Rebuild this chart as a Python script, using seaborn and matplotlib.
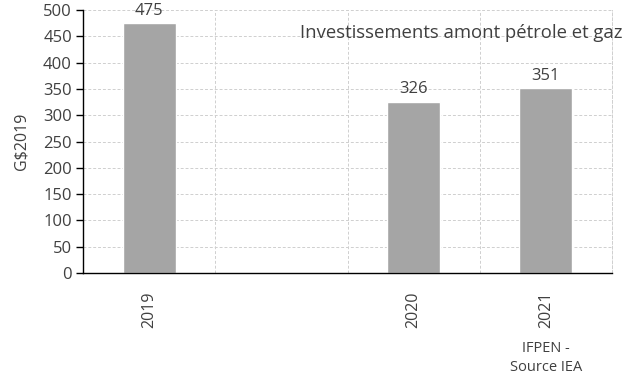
import matplotlib
matplotlib.use("Agg")
import matplotlib.pyplot as plt
import seaborn as sns
import pandas as pd

# data
years = ["2019", "2020", "2021"]
values = [475, 326, 351]
categories = ["2019", " ", "2020", "2021"]  # empty slot between 2019 and 2020

df = pd.DataFrame({"annee": years, "invest": values})

sns.set_style("white")
plt.rcParams["font.family"] = ["Open Sans", "DejaVu Sans"]
txt = "#404040"
grid_col = "#cfcfcf"

fig = plt.figure(figsize=(6.24, 3.76), dpi=100)
ax = fig.add_axes([83 / 624, 1 - 273 / 376, (612 - 83) / 624, (273 - 10) / 376])

sns.barplot(data=df, x="annee", y="invest", order=categories, color="#a5a5a5",
            width=0.4, saturation=1, ax=ax)

ax.set_ylim(0, 500)
ax.set_xlim(-0.5, len(categories) - 0.5)
ax.set_yticks(range(0, 501, 50))

# gridlines at category boundaries and at y ticks
ax.set_xticks([i - 0.5 for i in range(len(categories) + 1)], minor=True)
ax.grid(True, which="minor", axis="x", color=grid_col, linestyle=(0, (3, 2)), linewidth=0.7)
ax.grid(True, which="major", axis="y", color=grid_col, linestyle=(0, (3, 2)), linewidth=0.7)
ax.set_axisbelow(True)

ax.tick_params(axis="x", which="major", length=0, pad=13, labelrotation=90,
               labelsize=11.5, labelcolor=txt)
ax.tick_params(axis="x", which="minor", length=6, width=1, color="black", direction="out")
ax.tick_params(axis="y", length=5, width=1, color="black", direction="out",
               labelsize=12, labelcolor=txt, pad=3, left=True)

ax.spines["top"].set_visible(False)
ax.spines["right"].set_color(grid_col)
ax.spines["right"].set_linestyle((0, (3, 2)))
ax.spines["right"].set_linewidth(0.7)
for s in ["left", "bottom"]:
    ax.spines[s].set_color("black")
    ax.spines[s].set_linewidth(1)

ax.set_xlabel("")
ax.set_ylabel("G$2019", fontsize=11.5, color=txt, labelpad=10)

for c in ax.containers:
    ax.bar_label(c, fmt="%d", padding=3, fontsize=12, color=txt)

fig.text(0.998, 0.912, "Investissements amont pétrole et gaz", ha="right", va="center",
         fontsize=13.3, color=txt)
fig.text(546 / 624, 1 - 358 / 376, "IFPEN -\nSource IEA", ha="center", va="center",
         fontsize=10.5, color=txt, linespacing=1.35)

fig.savefig("out.png", dpi=100)
